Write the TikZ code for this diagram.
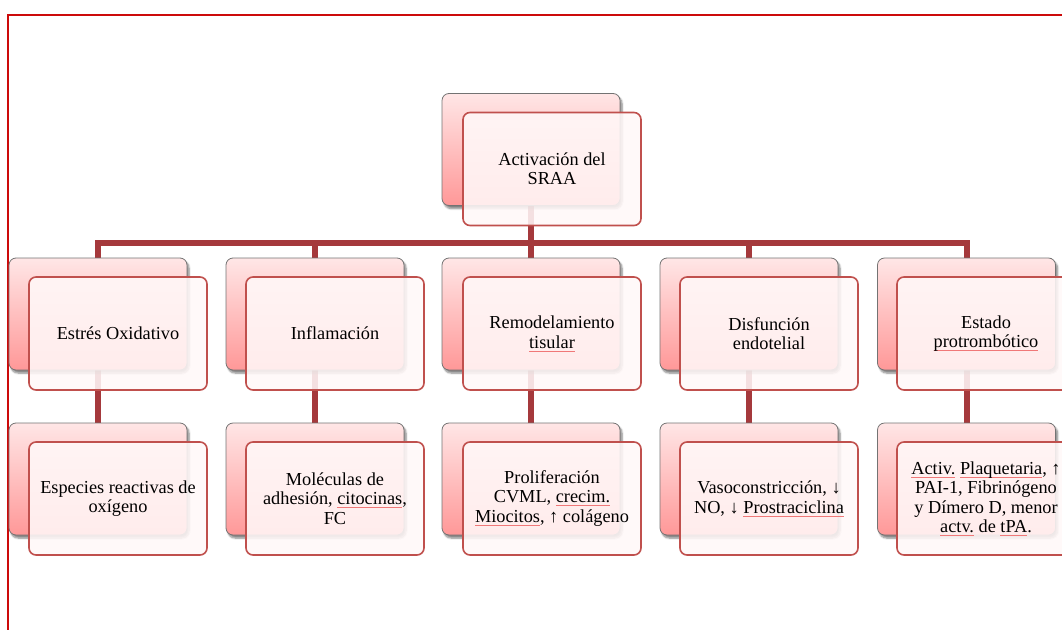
\documentclass[tikz,border=0pt]{standalone}
\usepackage{fontspec}
\setmainfont{Liberation Serif}
\usetikzlibrary{shadows.blur,backgrounds}

\definecolor{framered}{RGB}{204,10,10}
\definecolor{linkred}{RGB}{165,57,60}
\definecolor{edgered}{RGB}{192,80,77}
\definecolor{pinktop}{RGB}{255,230,230}
\definecolor{pinkbot}{RGB}{255,152,152}
\definecolor{paper}{RGB}{255,248,248}
\definecolor{wavered}{RGB}{240,120,120}

% thin red underline for flagged words
\newcommand\flag[1]{\setbox0\hbox{#1}\rlap{\textcolor{wavered}{\rule[-3pt]{\wd0}{0.5pt}}}\box0\relax}

\tikzset{
  framestyle/.style={draw=framered, line width=2pt},
  backbox/.style={minimum width=178pt, minimum height=112pt, rounded corners=7pt,
    draw=black!55, line width=0.8pt, top color=pinktop, bottom color=pinkbot,
    blur shadow={shadow xshift=2pt, shadow yshift=-3pt, shadow blur steps=6, shadow opacity=50}},
  frontbox/.style={minimum width=178pt, minimum height=113pt, rounded corners=7pt,
    draw=edgered, line width=1.6pt, fill=paper, fill opacity=0.88, text opacity=1,
    align=center, font=\fontsize{18.3}{19.3}\selectfont},
  link/.style={draw=linkred, line width=6pt, line join=miter}
}

\begin{document}
\begin{tikzpicture}[x=1pt,y=-1pt]
\useasboundingbox (0,0) rectangle (1062,629);

% top level
\node[backbox] (sraaB) at (531,149.5) {};
\node[frontbox] (sraa) at (552,169) {Activación del\\SRAA};

% first row
\node[backbox] (b1) at (98,314) {};
\node[frontbox] (f1) at (118,333.5) {Estrés Oxidativo};
\node[backbox] (b2) at (315,314) {};
\node[frontbox] (f2) at (335,333.5) {Inflamación};
\node[backbox] (b3) at (531,314) {};
\node[frontbox] (f3) at (552,333.5) {Remodelamiento\\\flag{tisular}};
\node[backbox] (b4) at (749,314) {};
\node[frontbox] (f4) at (769,333.5) {Disfunción\\endotelial};
\node[backbox] (b5) at (966.5,314) {};
\node[frontbox] (f5) at (986,333.5) {Estado\\\flag{protrombótico}};

% second row
\node[backbox] (c1) at (98,479) {};
\node[frontbox] (g1) at (118,498.5) {Especies reactivas de\\oxígeno};
\node[backbox] (c2) at (315,479) {};
\node[frontbox] (g2) at (335,498.5) {Moléculas de\\adhesión, \flag{citocinas},\\FC};
\node[backbox] (c3) at (531,479) {};
\node[frontbox] (g3) at (552,498.5) {Proliferación\\CVML, \flag{crecim.}\\\flag{Miocitos}, ↑ colágeno};
\node[backbox] (c4) at (749,479) {};
\node[frontbox] (g4) at (769,498.5) {Vasoconstricción, ↓\\NO, ↓ \flag{Prostraciclina}};
\node[backbox] (c5) at (966.5,479) {};
\node[frontbox] (g5) at (986,498.5) {\flag{Activ.} \flag{Plaquetaria}, ↑\\PAI-1, Fibrinógeno\\y Dímero D, menor\\\flag{actv.} de \flag{tPA}.};

\begin{scope}[on background layer]
  \draw[framestyle] (8,640) -- (8,15) -- (1075,15);
  \coordinate (bus) at (0,243);
  \draw[link] (sraaB.south) -- (sraaB.south |- bus);
  \draw[link] (b1.north) -- (b1.north |- bus) -- (b5.north |- bus) -- (b5.north);
  \foreach \n in {b2,b3,b4} \draw[link] (\n.north) -- (\n.north |- bus);
  \draw[link] (b1.south) -- (c1.north);
  \draw[link] (b2.south) -- (c2.north);
  \draw[link] (b3.south) -- (c3.north);
  \draw[link] (b4.south) -- (c4.north);
  \draw[link] (b5.south) -- (c5.north);
\end{scope}
\end{tikzpicture}
\end{document}
